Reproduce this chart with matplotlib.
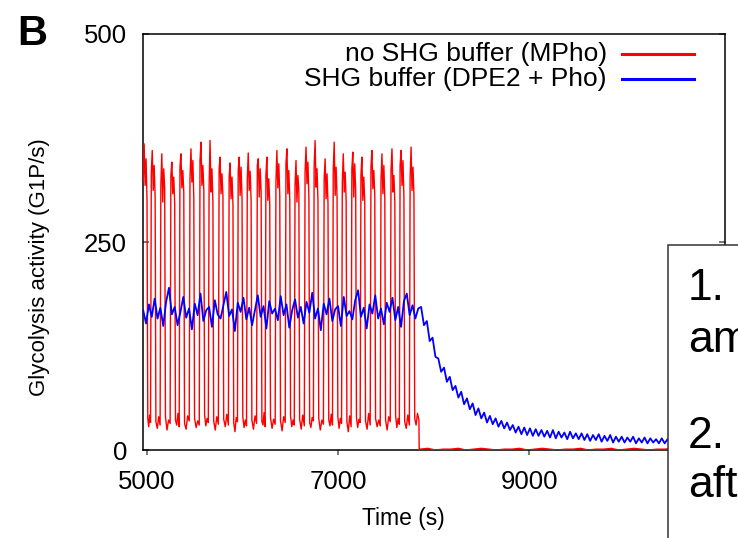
import numpy as np
import matplotlib
matplotlib.use('Agg')
import matplotlib.pyplot as plt
from matplotlib.patches import Rectangle
from matplotlib.lines import Line2D

plt.rcParams['font.family'] = ['Liberation Sans', 'DejaVu Sans']

# ---- data ----
# red (no SHG buffer): centre time of each high phase, values in high / low phase
red_peak_t = [4980, 5065, 5165, 5270, 5365, 5470, 5575, 5670, 5775, 5880,
              5975, 6070, 6175, 6265, 6370, 6475, 6570, 6675, 6770, 6875,
              6970, 7065, 7165, 7260, 7365, 7470, 7575, 7670, 7775]
red_high = [
    [322, 368, 318, 350, 300], [335, 360, 312, 342, 305], [318, 356, 298, 338, 315],
    [330, 346, 308, 328, 296], [340, 356, 315, 336, 310], [326, 362, 322, 348, 302],
    [348, 370, 318, 342, 312], [315, 372, 310, 338, 298], [338, 352, 308, 332, 305],
    [328, 345, 302, 328, 295], [336, 352, 306, 340, 302], [326, 357, 312, 335, 300],
    [342, 350, 304, 338, 310], [330, 352, 300, 326, 296], [322, 360, 315, 344, 306],
    [345, 362, 308, 336, 300], [318, 348, 298, 330, 312], [334, 364, 320, 346, 304],
    [340, 372, 316, 338, 300], [326, 350, 302, 332, 296], [336, 370, 306, 340, 304],
    [322, 356, 310, 334, 300], [338, 358, 304, 344, 312], [330, 352, 300, 328, 298],
    [340, 360, 314, 336, 306], [324, 356, 308, 342, 302], [336, 362, 310, 330, 298],
    [342, 360, 318, 348, 304], [328, 364, 312, 340, 306]]
red_low = [
    [38, 28, 42, 33], [34, 26, 40, 30], [40, 24, 36, 32], [36, 30, 44, 28], [32, 25, 41, 35],
    [38, 27, 35, 30], [42, 29, 38, 33], [35, 24, 40, 31], [37, 28, 43, 30], [33, 22, 39, 34],
    [40, 27, 36, 29], [36, 25, 41, 32], [34, 30, 45, 28], [39, 26, 37, 31], [35, 23, 40, 33],
    [41, 28, 36, 30], [37, 25, 42, 29], [33, 27, 39, 35], [38, 24, 36, 31], [36, 29, 43, 30],
    [40, 26, 38, 32], [34, 22, 41, 28], [39, 27, 37, 33], [35, 25, 44, 30], [38, 28, 36, 29],
    [36, 24, 40, 34], [41, 27, 38, 31], [34, 26, 42, 30], [38, 30, 44, 36]]
red_drop_t = 7850
red_off = [1, 2, 0, 1, 1, 2, 0, 1, 2, 1, 0, 1, 1, 2, 0, 1, 2, 1, 0, 1,
           1, 2, 0, 1, 1, 2, 0, 1, 2, 1, 0, 1, 1, 2, 0, 1, 1, 2, 0, 1]

# blue (SHG buffer), sampled every 30 s from 4960 s
blue_start, blue_step = 4960, 30
blue_on = [168, 152, 175, 160, 182, 158, 171, 149, 178, 195,
           163, 172, 150, 166, 184, 159, 170, 145, 176, 162,
           188, 155, 168, 172, 148, 180, 163, 158, 174, 190,
           161, 169, 143, 177, 166, 183, 157, 171, 150, 168,
           186, 160, 173, 146, 179, 164, 170, 156, 185, 162,
           175, 147, 168, 181, 159, 172, 152, 178, 165, 189,
           158, 170, 144, 176, 163, 182, 155, 169, 173, 149,
           184, 161, 167, 157, 180, 192, 160, 171, 146, 175,
           164, 186, 158, 170, 151, 177, 166, 183, 156, 172,
           148, 179, 188, 162, 174, 158, 170]
blue_decay = [172, 150, 155, 131, 135, 112, 110, 94, 99, 82,
              88, 72, 77, 63, 70, 55, 62, 49, 56, 42,
              50, 38, 45, 33, 41, 31, 38, 28, 35, 26,
              33, 24, 30, 21, 28, 19, 27, 18, 26, 17,
              25, 17,
              24, 16, 23, 15, 24, 14, 22, 15, 21, 13, 22, 14, 20, 13,
              20, 12, 19, 11, 18, 12, 19, 10, 17, 11, 18, 9, 16, 10,
              16, 9, 15, 10, 16, 8, 14, 9, 15, 8, 14, 9, 13, 8,
              14, 8, 13, 7, 14, 8, 12, 7, 13, 8, 12, 6, 13, 7, 12, 8, 11, 6, 12, 7, 11, 7]

labels = ['no SHG buffer (MPho)', 'SHG buffer (DPE2 + Pho)']
colors = ['#ff0000', '#0000ff']

# ---- build series ----
rt, rv = [], []
for i, c in enumerate(red_peak_t):
    rt += list(c + np.array([-20, -10, 0, 10, 20]))
    rv += red_high[i]
    end = red_peak_t[i + 1] - 28 if i + 1 < len(red_peak_t) else red_drop_t - 3
    rt += list(np.linspace(c + 28, end, 4))
    rv += red_low[i]
rt += [red_drop_t] + list(red_drop_t + 10 + 80 * np.arange(len(red_off)))
rv += [0] + red_off

blue_vals = blue_on + blue_decay
bt = blue_start + blue_step * np.arange(len(blue_vals))

# ---- figure ----
W, H = 738, 538
fig = plt.figure(figsize=(W / 100, H / 100), dpi=100)
ax = fig.add_axes([143 / W, 1 - 450 / H, (725 - 143) / W, (450 - 34) / H])

ax.plot(rt, rv, color=colors[0], lw=1.0, zorder=3)
ax.plot(bt, blue_vals, color=colors[1], lw=1.3, zorder=4)

ax.set_xlim(4958, 11052)
ax.set_ylim(0, 500)
ax.set_xticks([5000, 7000, 9000])
ax.set_yticks([0, 250, 500])
for s in ax.spines.values():
    s.set_linewidth(1.1)
ax.tick_params(axis='y', direction='in', length=4.3, width=1.1, color='#555555',
               right=True, labelsize=18.5, pad=11.5)
ax.tick_params(axis='x', direction='out', length=3.6, width=1.1, color='#555555',
               labelsize=18.5, pad=10.5)

fig.text(403 / W, 1 - 507 / H, 'Time (s)', ha='center', va='top', fontsize=16.5)
fig.text(40 / W, 1 - 267 / H, 'Glycolysis activity (G1P/s)', rotation=90,
         ha='center', va='center', fontsize=16)

# legend, text left of the sample line
for k, yy in enumerate([54, 79]):
    fig.text(607 / W, 1 - yy / H, labels[k], ha='right', va='center', fontsize=19)
    fig.add_artist(Line2D([622 / W, 694 / W], [1 - yy / H, 1 - yy / H],
                          color=colors[k], lw=2.2, transform=fig.transFigure))

fig.text(17 / W, 1 - 14 / H, 'B', fontsize=30, fontweight='bold', ha='left', va='top')

# overlaid text box (cut by the figure edge)
fig.add_artist(Rectangle((668 / W, -0.2), 0.3, 1.2 - 245 / H, transform=fig.transFigure,
                         facecolor='white', edgecolor='#333333', lw=1.1, zorder=10,
                         clip_on=False))
for txt, yy in [('1.', 300), ('am', 352), ('2.', 448), ('aft', 497)]:
    fig.text(688 / W, 1 - yy / H, txt, fontsize=32, ha='left', va='baseline', zorder=11)

fig.savefig('out.png', dpi=100)
